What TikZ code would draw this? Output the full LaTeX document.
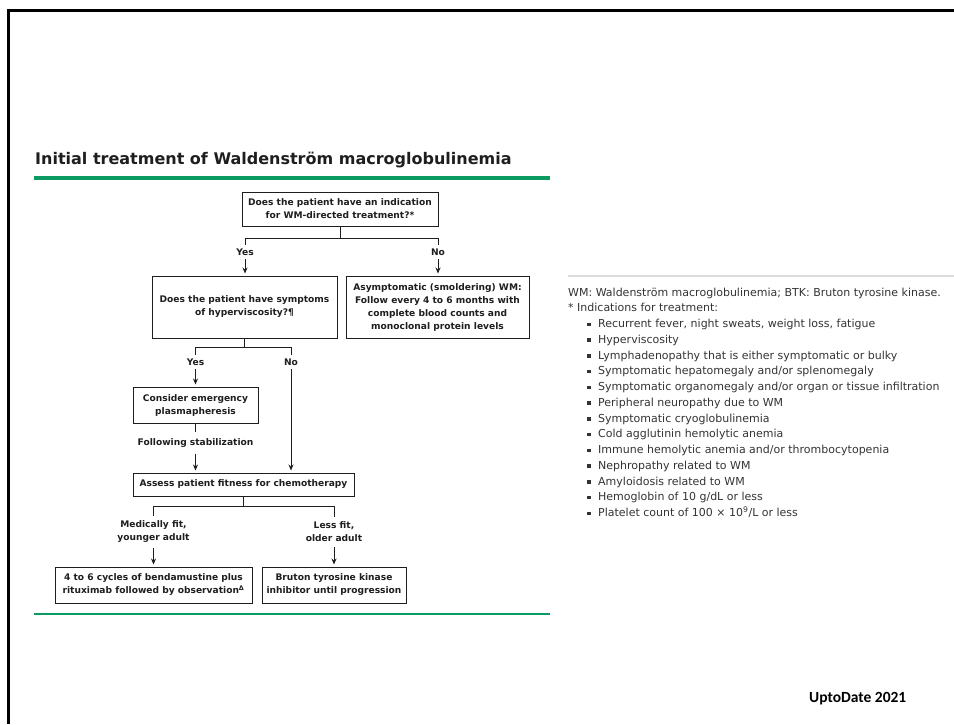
\documentclass[tikz,border=0pt]{standalone}
\usepackage{fontspec}
\setmainfont{DejaVu Sans}
\newfontfamily\srcfont{Carlito}
\usetikzlibrary{arrows.meta,positioning}
\definecolor{ink}{HTML}{1E1E1E}
\definecolor{rule}{HTML}{0B9A62}
\definecolor{note}{HTML}{333333}
\definecolor{hair}{HTML}{DCDCDC}

\begin{document}
\begin{tikzpicture}[x=1pt,y=-1pt,>={Stealth[length=6pt,width=5pt]},
 box/.style={draw=ink,line width=1pt,align=center,inner sep=2pt,
 font=\bfseries\fontsize{9.1}{13}\selectfont,text=ink},
 lbl/.style={align=center,inner sep=3.5pt,font=\bfseries\fontsize{9.1}{13}\selectfont,text=ink},
 link/.style={draw=ink,line width=0.8pt},
 item/.style={anchor=base west,inner sep=0pt,font=\fontsize{11}{13}\selectfont,text=note}]
\useasboundingbox (0,0) rectangle (954,724);
% frame, title and green rules
\draw[line width=3pt] (8,724) -- (8,10) -- (954,10);
\node[anchor=base west,inner sep=0pt,text=ink,font=\bfseries\fontsize{16}{18}\selectfont] (title) at (35,164) {Initial treatment of Waldenström macroglobulinemia};
\draw[rule,line width=4pt] (34,178) -- (550,178);
\draw[rule,line width=2.5pt] (34,614) -- (550,614);
% flowchart boxes
\node[box,minimum width=196pt,minimum height=34pt] (indic) at (340,209) {Does the patient have an indication\\for WM-directed treatment?*};
\node[box,minimum width=185pt,minimum height=62pt] (hyper) at (244.5,307) {Does the patient have symptoms\\of hyperviscosity?¶};
\node[box,minimum width=183pt,minimum height=62pt] (smold) at (437.5,307) {Asymptomatic (smoldering) WM:\\Follow every 4 to 6 months with\\complete blood counts and\\monoclonal protein levels};
\node[box,minimum width=125pt,minimum height=36pt] (plasma) at (195.5,405) {Consider emergency\\plasmapheresis};
\node[box,minimum width=221pt,minimum height=23pt] (assess) at (243.5,484.5) {Assess patient fitness for chemotherapy};
\node[box,minimum width=197pt,minimum height=36pt] (benda) at (153.5,585) {4 to 6 cycles of bendamustine plus\\rituximab followed by observation\textsuperscript{Δ}};
\node[box,minimum width=144pt,minimum height=36pt] (btk) at (334,585) {Bruton tyrosine kinase\\inhibitor until progression};
% branch labels
\node[lbl] (yes1) at (245,252) {Yes};
\node[lbl] (no1) at (438,252) {No};
\node[lbl] (yes2) at (195.5,362) {Yes};
\node[lbl] (no2) at (291,362) {No};
\node[lbl,inner sep=6pt] (stab) at (195.5,443) {Following stabilization};
\node[lbl,inner sep=5pt] (fit) at (153.5,532) {Medically fit,\\younger adult};
\node[lbl,inner sep=5pt] (unfit) at (334,532) {Less fit,\\older adult};
% forks and arrows
\draw[link] (indic.south) -- ++(0,12) coordinate (fork1);
\draw[link] (yes1.north) |- (fork1) -| (no1.north);
\draw[link] (hyper.south) -- ++(0,9) coordinate (fork2);
\draw[link] (yes2.north) |- (fork2) -| (no2.north);
\draw[link] (assess.south) -- ++(0,10) coordinate (fork3);
\draw[link] (fit.north) |- (fork3) -| (unfit.north);
\draw[link] (plasma) -- (stab);
\foreach \a/\b in {yes1/hyper,no1/smold,yes2/plasma,no2/assess,stab/assess,fit/benda,unfit/btk}
 \draw[link,->,shorten >=2pt] (\a.south) -- (\a.south |- \b.north);
% notes
\draw[hair,line width=1.2pt] (568,276) -- (954,276);
\node[item] (abbr) at (568,296) {WM: Waldenström macroglobulinemia; BTK: Bruton tyrosine kinase.};
\node[item] (ind) at (568,311.75) {* Indications for treatment:};
\foreach \t [count=\i] in {{Recurrent fever, night sweats, weight loss, fatigue},Hyperviscosity,
 Lymphadenopathy that is either symptomatic or bulky,Symptomatic hepatomegaly and/or splenomegaly,
 Symptomatic organomegaly and/or organ or tissue infiltration,Peripheral neuropathy due to WM,
 Symptomatic cryoglobulinemia,Cold agglutinin hemolytic anemia,
 Immune hemolytic anemia and/or thrombocytopenia,Nephropathy related to WM,
 Amyloidosis related to WM,Hemoglobin of 10 g/dL or less,
 Platelet count of 100 × 10\textsuperscript{9}/L or less}{
 \node[item] (ind\i) at (598,311.75+15.75*\i) {\t};
 \fill[note] ([xshift=-11pt,yshift=1.5pt]ind\i.base west) rectangle ++(3.5,-3.5);
}
\node[anchor=base west,inner sep=0pt,font=\srcfont\bfseries\fontsize{15.5}{18}\selectfont] (src) at (809,702) {UptoDate 2021};
\end{tikzpicture}
\end{document}
